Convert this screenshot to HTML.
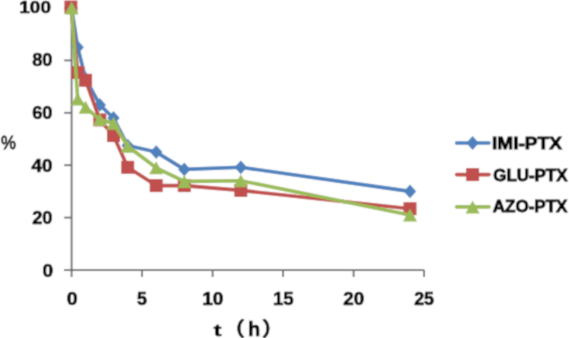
<!DOCTYPE html>
<html><head><meta charset="utf-8"><style>
html,body{margin:0;padding:0;background:#fff;}
body{width:569px;height:338px;overflow:hidden;position:relative;}
svg{position:absolute;left:0;top:0;}
.t{font-family:"Liberation Sans",Arial,sans-serif;font-weight:bold;fill:#000;stroke:#000;stroke-width:0.6px;}
.n{font-family:"Liberation Sans",Arial,sans-serif;font-weight:normal;fill:#000;}
.c{font-family:"Liberation Sans","Noto Sans CJK SC",sans-serif;font-weight:bold;fill:#000;stroke:#000;stroke-width:0.5px;}
</style></head><body>
<svg width="569" height="338" viewBox="0 0 569 338">
<defs><filter id="soft" x="0" y="0" width="1" height="1"><feConvolveMatrix order="3" kernelMatrix="1 2 1 2 8 2 1 2 1" divisor="20" edgeMode="duplicate"/></filter></defs>
<g filter="url(#soft)">
<rect width="569" height="338" fill="#fff"/>
<g stroke="#6a6a6a" stroke-width="1.8" fill="none">
<path d="M71.6 8V270.2"/>
<path d="M64 270.2H424.3"/>
<path d="M64.2 217.6H71.6"/>
<path d="M64.2 165.2H71.6"/>
<path d="M64.2 112.8H71.6"/>
<path d="M64.2 60.4H71.6"/>
<path d="M64.2 8.0H71.6"/>
<path d="M71.6 270.2V277"/>
<path d="M142.1 270.2V277"/>
<path d="M212.6 270.2V277"/>
<path d="M283.1 270.2V277"/>
<path d="M353.6 270.2V277"/>
<path d="M424.1 270.2V277"/>
</g>
<polyline points="71.6,8.0 77.7,47.3 85.6,78.7 99.8,104.9 113.5,118.0 127.7,145.6 156.2,152.1 184.3,169.4 240.8,167.3 410.0,191.4" fill="none" stroke="#4F81BD" stroke-width="3.6" stroke-linejoin="round" stroke-linecap="round"/>
<g fill="#4F81BD"><path d="M71.6 1.1L77.8 8.0L71.6 14.9L65.4 8.0Z"/><path d="M77.7 40.4L83.9 47.3L77.7 54.2L71.5 47.3Z"/><path d="M85.6 71.8L91.8 78.7L85.6 85.6L79.4 78.7Z"/><path d="M99.8 98.0L106.0 104.9L99.8 111.8L93.6 104.9Z"/><path d="M113.5 111.1L119.7 118.0L113.5 124.9L107.3 118.0Z"/><path d="M127.7 138.7L133.9 145.6L127.7 152.5L121.5 145.6Z"/><path d="M156.2 145.2L162.4 152.1L156.2 159.0L150.0 152.1Z"/><path d="M184.3 162.5L190.5 169.4L184.3 176.3L178.1 169.4Z"/><path d="M240.8 160.4L247.0 167.3L240.8 174.2L234.6 167.3Z"/><path d="M410.0 184.5L416.2 191.4L410.0 198.3L403.8 191.4Z"/></g>
<polyline points="70.9,7.0 77.7,72.5 85.6,80.3 99.8,119.9 113.5,135.6 127.7,167.3 156.2,185.6 184.3,185.6 240.8,190.4 410.0,208.7" fill="none" stroke="#C0504D" stroke-width="3.6" stroke-linejoin="round" stroke-linecap="round"/>
<g fill="#C0504D"><rect x="64.4" y="0.5" width="13.0" height="13.0"/><rect x="71.2" y="66.0" width="13.0" height="13.0"/><rect x="79.1" y="73.8" width="13.0" height="13.0"/><rect x="93.3" y="113.4" width="13.0" height="13.0"/><rect x="107.0" y="129.1" width="13.0" height="13.0"/><rect x="121.2" y="160.8" width="13.0" height="13.0"/><rect x="149.7" y="179.1" width="13.0" height="13.0"/><rect x="177.8" y="179.1" width="13.0" height="13.0"/><rect x="234.3" y="183.9" width="13.0" height="13.0"/><rect x="403.5" y="202.2" width="13.0" height="13.0"/></g>
<polyline points="71.6,8.0 77.7,98.9 85.6,107.3 99.8,119.6 113.5,123.3 127.7,146.3 156.2,167.8 184.3,181.4 240.8,180.7 410.0,215.0" fill="none" stroke="#9BBB59" stroke-width="3.6" stroke-linejoin="round" stroke-linecap="round"/>
<g fill="#9BBB59"><path d="M71.6 1.5L78.6 14.5L64.6 14.5Z"/><path d="M77.7 92.4L84.7 105.4L70.7 105.4Z"/><path d="M85.6 100.8L92.6 113.8L78.6 113.8Z"/><path d="M99.8 113.1L106.8 126.1L92.8 126.1Z"/><path d="M113.5 116.8L120.5 129.8L106.5 129.8Z"/><path d="M127.7 139.8L134.7 152.8L120.7 152.8Z"/><path d="M156.2 161.3L163.2 174.3L149.2 174.3Z"/><path d="M184.3 174.9L191.3 187.9L177.3 187.9Z"/><path d="M240.8 174.2L247.8 187.2L233.8 187.2Z"/><path d="M410.0 208.5L417.0 221.5L403.0 221.5Z"/></g>
<path d="M456.6 143.0H489.0" stroke="#4F81BD" stroke-width="3.6" stroke-linecap="round"/>
<g fill="#4F81BD"><path d="M472.6 136.1L478.8 143.0L472.6 149.9L466.4 143.0Z"/></g>
<path d="M456.6 174.6H489.0" stroke="#C0504D" stroke-width="3.6" stroke-linecap="round"/>
<g fill="#C0504D"><rect x="466.1" y="168.1" width="13.0" height="13.0"/></g>
<path d="M456.6 206.9H489.0" stroke="#9BBB59" stroke-width="3.6" stroke-linecap="round"/>
<g fill="#9BBB59"><path d="M472.6 200.4L479.6 213.4L465.6 213.4Z"/></g>
<text class="t" font-size="17.39" transform="translate(19.36 13.13) scale(1.088 1)">100</text>
<text class="t" font-size="18.03" transform="translate(32.15 65.52) scale(1.013 1)">80</text>
<text class="t" font-size="18.31" transform="translate(32.17 118.52) scale(0.997 1)">60</text>
<text class="t" font-size="17.61" transform="translate(31.62 171.52) scale(1.066 1)">40</text>
<text class="t" font-size="17.61" transform="translate(32.15 224.22) scale(1.038 1)">20</text>
<text class="t" font-size="17.46" transform="translate(42.43 276.73) scale(1.096 1)">0</text>
<text class="t" font-size="18.03" transform="translate(66.82 304.82) scale(1.086 1)">0</text>
<text class="t" font-size="18.29" transform="translate(137.07 304.82) scale(0.973 1)">5</text>
<text class="t" font-size="17.75" transform="translate(202.15 304.62) scale(1.077 1)">10</text>
<text class="t" font-size="18.00" transform="translate(272.98 304.62) scale(1.035 1)">15</text>
<text class="t" font-size="18.17" transform="translate(343.23 304.82) scale(1.037 1)">20</text>
<text class="t" font-size="18.03" transform="translate(414.17 304.82) scale(0.988 1)">25</text>
<text class="n" font-size="18.29" transform="translate(1.03 148.82) scale(0.918 1)" stroke="#000" stroke-width="0.8">%</text>
<text class="t" font-size="16.67" transform="translate(213.77 335.53) scale(1.374 1)">t</text>
<text class="c" font-size="19.58" transform="translate(222.93 335.84) scale(1.127 1)">（</text>
<text class="t" font-size="19.73" transform="translate(247.90 335.60) scale(1.014 1)">h</text>
<text class="c" font-size="19.58" transform="translate(261.70 335.84) scale(1.127 1)">）</text>
<text class="t" font-size="17.25" transform="translate(492.07 149.30) scale(1.103 1)" style="stroke-width:0.85px">IMI-PTX</text>
<text class="t" font-size="17.18" transform="translate(493.22 181.03) scale(0.986 1)" style="stroke-width:0.85px">GLU-PTX</text>
<text class="t" font-size="17.04" transform="translate(492.69 212.23) scale(1.001 1)" style="stroke-width:0.85px">AZO-PTX</text>
</g>
</svg>
</body></html>
